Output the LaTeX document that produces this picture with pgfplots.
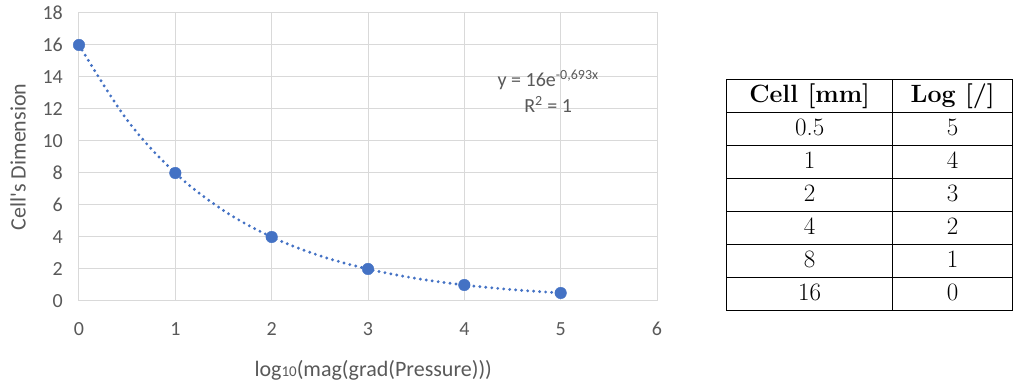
\documentclass[border=0pt]{standalone}
\usepackage{fontspec}
\usepackage{pgfplots}
\pgfplotsset{compat=1.18}
\usepackage{array}
\newfontfamily\carlito{Carlito}
\definecolor{xlblue}{HTML}{4472C4}
\definecolor{xlgrid}{HTML}{D9D9D9}
\definecolor{xltext}{HTML}{595959}

\begin{document}
\begin{tikzpicture}
\useasboundingbox (0,0) rectangle (1013pt,382pt);
\begin{axis}[
  at={(79pt,81pt)}, anchor=south west,
  scale only axis, width=578pt, height=288pt,
  xmin=0, xmax=6, ymin=0, ymax=18,
  xtick={0,1,2,3,4,5,6}, ytick={0,2,4,6,8,10,12,14,16,18},
  grid=major, major grid style={draw=xlgrid, line width=1pt},
  axis line style={draw=xlgrid, line width=1pt},
  tick style={draw=none},
  /pgf/number format/assume math mode=true,
  ticklabel style={font=\carlito\fontsize{20}{20}\selectfont, text=xltext},
  xticklabel style={anchor=center, inner sep=0pt, yshift=-28pt},
  yticklabel style={anchor=east, inner sep=0pt, xshift=-16pt},
  xlabel={log{\fontsize{15}{15}\selectfont 10}(mag(grad(Pressure)))},
  ylabel={Cell's Dimension},
  label style={font=\carlito\fontsize{22}{22}\selectfont, text=xltext},
  xlabel style={at={(axis description cs:0.509,-0.24)}, anchor=center},
  ylabel style={at={(axis description cs:-0.1055,0.5)}, anchor=center},
  clip=false,
]
% trendline (dotted), values
\addplot[xlblue, line width=3.2pt, line cap=round, dash pattern=on 0pt off 6pt, smooth, tension=0.6] coordinates {
  (0,16) (0.5,11.31) (1,8) (1.5,5.66) (2,4) (2.5,2.83) (3,2) (3.5,1.41) (4,1) (4.5,0.71) (5,0.5)
};
% data points
\addplot[only marks, mark=*, mark size=5.8pt, mark options={fill=xlblue, draw=xlblue}] coordinates {
  (0,16) (1,8) (2,4) (3,2) (4,1) (5,0.5)
};
\node[anchor=base, font=\carlito\fontsize{20}{20}\selectfont, text=xltext] at (axis cs:4.87,13.4) {y = 16e\textsuperscript{-0,693x}};
\node[anchor=base, font=\carlito\fontsize{20}{20}\selectfont, text=xltext] at (axis cs:4.87,11.75) {R\textsuperscript{2} = 1};
\end{axis}
\node[anchor=north west, inner sep=0pt, font=\fontsize{25}{25}\selectfont] at (726pt,303pt) {%
\setlength{\tabcolsep}{0pt}\setlength{\arrayrulewidth}{1pt}%
\begin{tabular}{|>{\centering\arraybackslash}p{165pt}|>{\centering\arraybackslash}p{119pt}|}
\hline
\rule[-10pt]{0pt}{32pt}\textbf{Cell [mm]} & \textbf{Log [/]}\\ \hline
\rule[-10pt]{0pt}{32pt}0.5 & 5\\ \hline
\rule[-10pt]{0pt}{32pt}1 & 4\\ \hline
\rule[-10pt]{0pt}{32pt}2 & 3\\ \hline
\rule[-10pt]{0pt}{32pt}4 & 2\\ \hline
\rule[-10pt]{0pt}{32pt}8 & 1\\ \hline
\rule[-10pt]{0pt}{32pt}16 & 0\\ \hline
\end{tabular}};
\end{tikzpicture}
\end{document}
